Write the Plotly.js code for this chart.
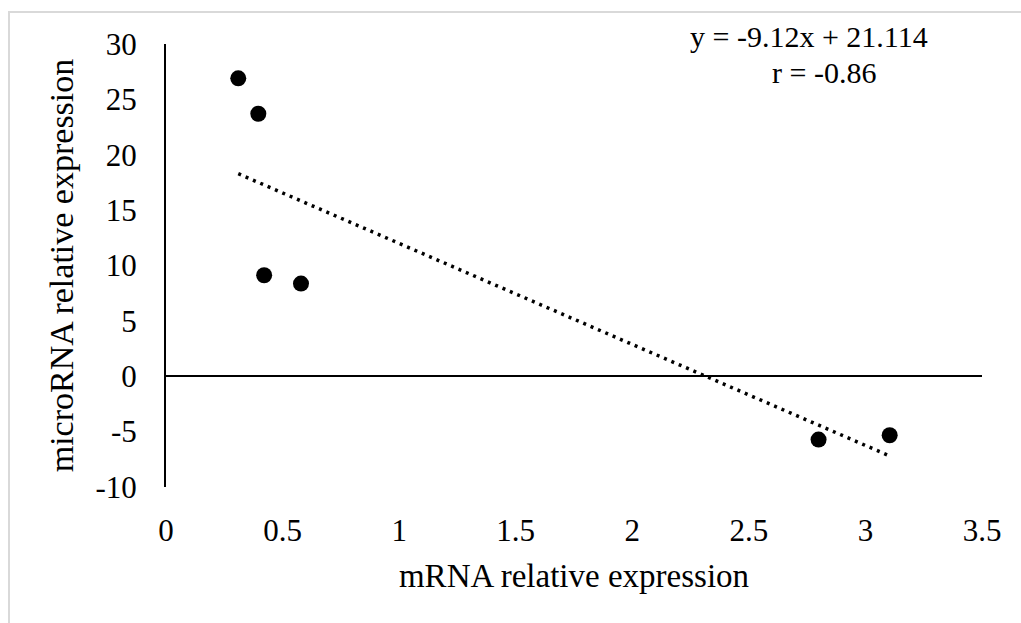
<!DOCTYPE html>
<html>
<head>
<meta charset="utf-8">
<script src="https://cdn.plot.ly/plotly-3.0.1.min.js"></script>
<style>
  html, body { margin: 0; padding: 0; background: #fff; }
  #chart { width: 1021px; height: 623px; }
  #frame { position: absolute; left: 8px; top: 11px; width: 1100px; height: 700px;
           border: 2px solid #d9d9d9; pointer-events: none; }
</style>
</head>
<body>
<div id="chart"></div>
<div id="frame"></div>
<script>
// Data
const mrna = [0.310, 0.396, 0.421, 0.579, 2.799, 3.104];
const microrna = [26.9, 23.7, 9.12, 8.37, -5.72, -5.33];
// Linear trendline as printed on the chart
const slope = -9.12;
const intercept = 21.114;
const rValue = -0.86;
const xTicks = [0, 0.5, 1, 1.5, 2, 2.5, 3, 3.5];
const yTicks = [-10, -5, 0, 5, 10, 15, 20, 25, 30];

const xMin = Math.min(...mrna), xMax = Math.max(...mrna);
const trendX = [xMin, xMax];
const trendY = trendX.map(v => slope * v + intercept);

const font = 'Liberation Serif, Times New Roman, serif';

const traces = [
  {
    x: trendX, y: trendY, mode: 'lines', type: 'scatter',
    line: { color: '#000', width: 3.5, dash: '3px,5px' },
    hoverinfo: 'skip', showlegend: false
  },
  {
    x: mrna, y: microrna, mode: 'markers', type: 'scatter',
    marker: { color: '#000', size: 16 },
    showlegend: false
  }
];

const layout = {
  width: 1021, height: 623,
  margin: { l: 166, r: 39, t: 44, b: 136 },
  paper_bgcolor: '#fff', plot_bgcolor: '#fff',
  font: { family: font, color: '#000', size: 30 },
  showlegend: false,
  xaxis: {
    range: [0, 3.5], tickvals: xTicks, ticktext: xTicks.map(String),
    showgrid: false, zeroline: false, showline: false, ticks: '',
    ticklabelstandoff: 22,
    tickfont: { family: font, size: 31, color: '#000' },
    title: { text: 'mRNA relative expression', font: { family: font, size: 33, color: '#000' }, standoff: 16 }
  },
  yaxis: {
    range: [-10, 30], tickvals: yTicks, ticktext: yTicks.map(String),
    showgrid: false, showline: true, linecolor: '#000', linewidth: 2,
    zeroline: true, zerolinecolor: '#000', zerolinewidth: 2, ticks: '',
    ticklabelstandoff: 21,
    tickfont: { family: font, size: 31, color: '#000' },
    title: { text: 'microRNA relative expression', font: { family: font, size: 34, color: '#000' }, standoff: 12 }
  },
  annotations: [
    {
      xref: 'paper', yref: 'paper', x: 0.788, y: 1.018, xanchor: 'center', yanchor: 'middle',
      text: 'y = ' + slope + 'x + ' + intercept,
      showarrow: false, borderpad: 0, font: { family: font, size: 30, color: '#000' }
    },
    {
      xref: 'paper', yref: 'paper', x: 0.806, y: 0.936, xanchor: 'center', yanchor: 'middle',
      text: 'r = ' + rValue.toFixed(2),
      showarrow: false, borderpad: 0, font: { family: font, size: 30, color: '#000' }
    }
  ]
};

Plotly.newPlot('chart', traces, layout, { displayModeBar: false, staticPlot: true });
</script>
</body>
</html>
